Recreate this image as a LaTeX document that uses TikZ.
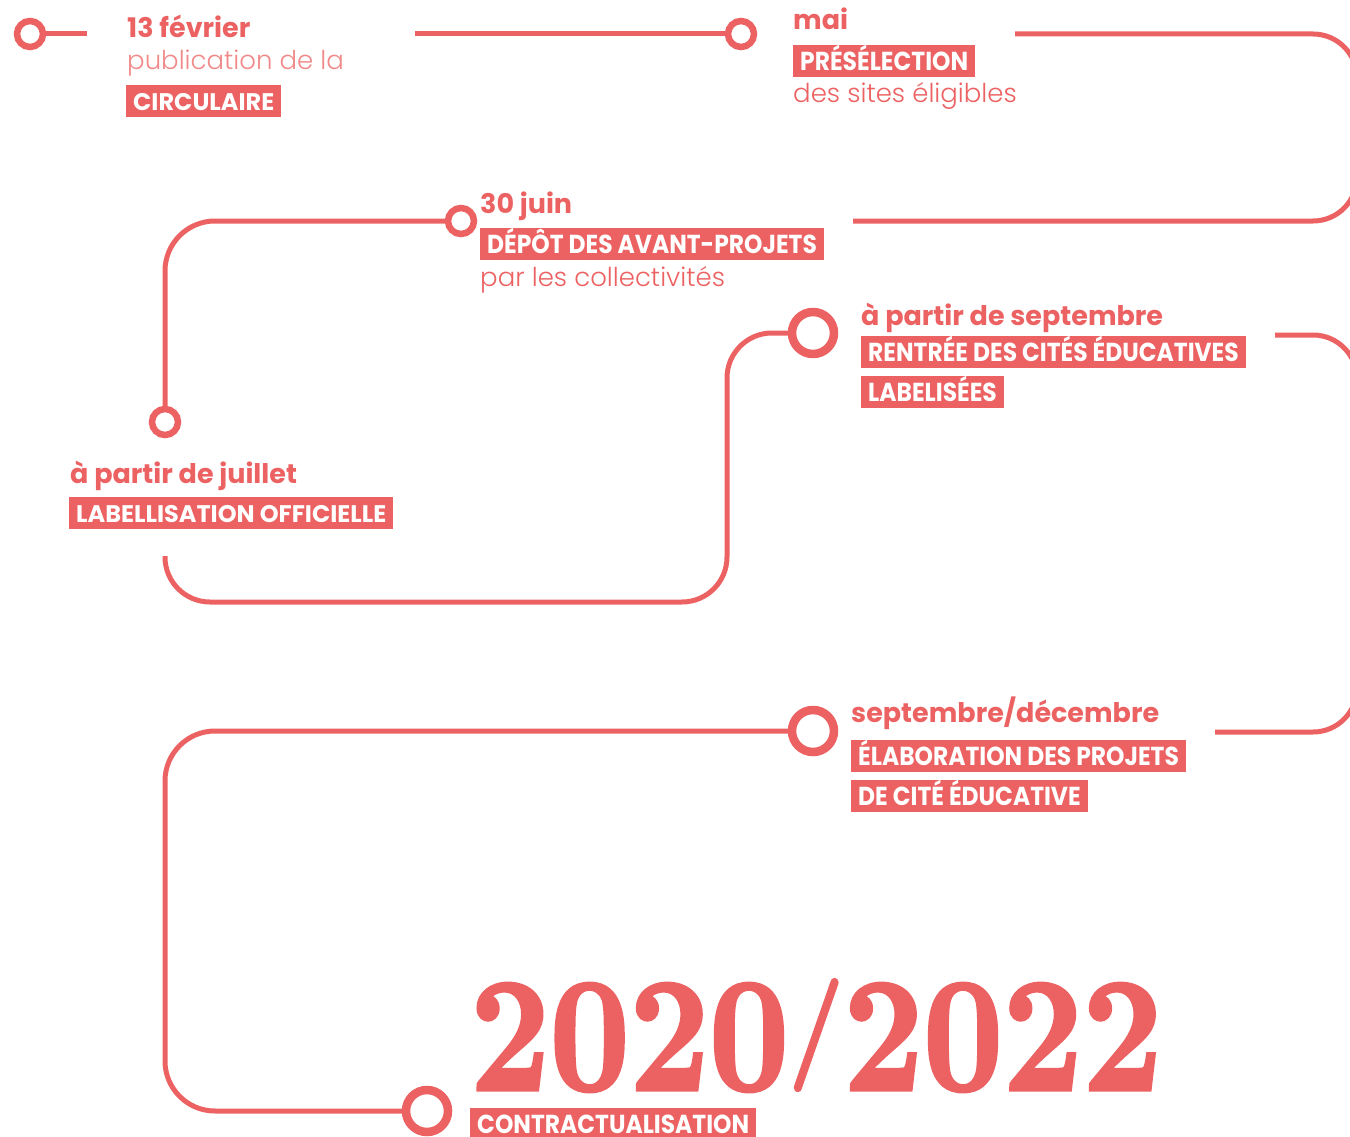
\documentclass[tikz,border=0pt]{standalone}
\usepackage{fontspec}
\setmainfont{Poppins}
\newfontfamily\lightfont{Poppins Light}
\newfontfamily\condfont{Poppins}[FakeStretch=0.9]
\newfontfamily\yearfont{lmroman10-bold.otf}[FakeStretch=0.85,FakeBold=2]
\definecolor{coral}{HTML}{EC6262}
\newcommand{\yearslash}{{\fontsize{112}{112}\selectfont\raisebox{27pt}{/}}}

\tikzset{
    trackline/.style={draw=coral, line width=5pt},
    stopdot/.style={circle, draw=coral, line width=6.5pt, minimum size=26pt, inner sep=0pt},
    bigdot/.style={stopdot, line width=8.5pt, minimum size=42pt},
    datelbl/.style={anchor=base west, inner sep=0pt, text=coral, font=\bfseries\fontsize{27}{27}\selectfont},
    notelbl/.style={anchor=base west, inner sep=0pt, text=coral, font=\lightfont\fontsize{26}{26}\selectfont},
    tagbox/.style={anchor=north west, fill=coral, text=white, inner xsep=7pt, inner ysep=0pt,
        minimum height=32pt, text height=19pt, text depth=1pt, font=\condfont\bfseries\fontsize{26}{26}\selectfont},
    widetagbox/.style={tagbox, font=\bfseries\fontsize{24}{24}\selectfont}
}

\begin{document}
\begin{tikzpicture}[x=1pt,y=-1pt]
    \useasboundingbox (0,0) rectangle (1350,1137);

    % Stops
    \foreach \n/\x/\y in {feb/30/34, may/741/34, jun/461/221, jul/165/422}
        \node[stopdot] (\n) at (\x,\y) {};
    \foreach \n/\x/\y in {sep/813/333, dec/813/731, fin/427/1111}
        \node[bigdot] (\n) at (\x,\y) {};

    % Free ends of the track
    \coordinate (a1) at (87,34);
    \coordinate (a2) at (415,34);
    \coordinate (a3) at (1015,34);
    \coordinate (a4) at (853,221);
    \coordinate (a5) at (165,556);
    \coordinate (a6) at (1275,335);
    \coordinate (a7) at (1215,732);

    % Track
    \draw[trackline] (feb) -- (a1);
    \draw[trackline] (a2) -- (may);
    \draw[trackline, rounded corners=44pt] (a3) -- ++(342,0) |- (a4);
    \draw[trackline, rounded corners=50pt] (jun) -| (jul);
    \draw[trackline, rounded corners=45pt] (a5) |- (727,602) |- (sep);
    \draw[trackline, rounded corners=44pt] (a6) -- ++(82,0) |- (a7);
    \draw[trackline, rounded corners=50pt] (dec) -| (165,1111) -- (fin);

    % Labels
    \node[datelbl] (febdate) at (127,38) {13 février};
    \node[notelbl, text=coral!75] (febnote) at (127,70) {publication de la};
    \node[widetagbox] (febtag) at (126,85) {CIRCULAIRE};

    \node[datelbl] (maydate) at (793,30) {mai};
    \node[tagbox] (maytag) at (793,45) {PRÉSÉLECTION};
    \node[notelbl] (maynote) at (793,103) {des sites éligibles};

    \node[datelbl] (jundate) at (480,214) {30 juin};
    \node[tagbox] (juntag) at (480,228) {DÉPÔT DES AVANT-PROJETS};
    \node[notelbl] (junnote) at (480,286) {par les collectivités};

    \node[datelbl] (juldate) at (70,483) {à partir de juillet};
    \node[widetagbox] (jultag) at (69,497) {LABELLISATION OFFICIELLE};

    \node[datelbl] (sepdate) at (861,325) {à partir de septembre};
    \node[tagbox] (septag) at (861,336) {RENTRÉE DES CITÉS ÉDUCATIVES};
    \node[tagbox] (septagb) at (861,376) {LABELISÉES};

    \node[datelbl] (decdate) at (851,722) {septembre/décembre};
    \node[tagbox] (dectag) at (851,740) {ÉLABORATION DES PROJETS};
    \node[tagbox] (dectagb) at (851,780) {DE CITÉ ÉDUCATIVE};

    \node[anchor=base west, inner sep=0pt, text=coral, font=\yearfont\fontsize{163}{163}\selectfont] (year) at (470,1090) {2020\yearslash2022};
    \node[tagbox] (fintag) at (470,1108) {CONTRACTUALISATION};
\end{tikzpicture}
\end{document}
